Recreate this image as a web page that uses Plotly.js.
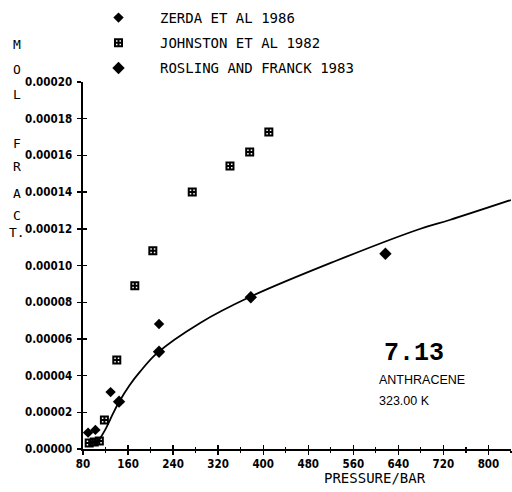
<!DOCTYPE html>
<html>
<head>
<meta charset="utf-8">
<script src="https://cdn.plot.ly/plotly-3.0.1.min.js"></script>
<style>
  html, body { margin: 0; padding: 0; background: #fff; }
  #chart { width: 512px; height: 492px; }
</style>
</head>
<body>
<div id="chart"></div>
<script>
// Anthracene solubility in supercritical fluid at 323.00 K
const pressureZerda = [89, 102, 129, 215];
const fractionZerda = [8.9e-6, 1.04e-5, 3.1e-5, 6.81e-5];

const pressureJohnston = [91, 100, 109, 118, 140, 172, 204, 274, 341, 376, 410];
const fractionJohnston = [3.3e-6, 3.8e-6, 4.4e-6, 1.58e-5, 4.85e-5, 8.9e-5, 1.08e-4, 1.40e-4, 1.542e-4, 1.619e-4, 1.727e-4];

const pressureRosling = [144, 215, 378, 617];
const fractionRosling = [2.58e-5, 5.30e-5, 8.27e-5, 1.064e-4];

// correlation curve
const curvePressure = [104, 121, 133, 144, 163, 181, 211, 288, 376, 524, 678, 731, 840];
const curveFraction = [2.6e-6, 1.14e-5, 1.91e-5, 2.56e-5, 3.49e-5, 4.20e-5, 5.21e-5, 6.87e-5, 8.28e-5, 1.019e-4, 1.199e-4, 1.248e-4, 1.357e-4];

const seriesNames = ['ZERDA ET AL 1986', 'JOHNSTON ET AL 1982', 'ROSLING AND FRANCK 1983'];
const yLetters = ['M', 'O', 'L', 'F', 'R', 'A', 'C', 'T.'];
const xTicks = [80, 160, 240, 320, 400, 480, 560, 640, 720, 800];
const yTicks = [0, 0.00002, 0.00004, 0.00006, 0.00008, 0.0001, 0.00012, 0.00014, 0.00016, 0.00018, 0.0002];

// plot box in pixels
const L = 83, T = 82, W = 428, H = 367;
const px = v => (v - L) / W;
const py = v => (T + H - v) / H;

const letterRows = [44, 69, 95, 143, 166, 193, 215, 232];

const tickFont = { family: 'DejaVu Sans Condensed', size: 11.5, color: '#000', weight: 'bold' };
const monoFont = { family: 'DejaVu Sans Mono', size: 14, color: '#000' };

const traces = [
  {
    x: pressureZerda, y: fractionZerda, type: 'scatter', mode: 'markers',
    name: seriesNames[0], legendgroup: 'a',
    marker: { symbol: 'diamond', size: 8, color: '#000' }
  },
  {
    x: pressureJohnston, y: fractionJohnston, type: 'scatter', mode: 'markers',
    name: seriesNames[1], legendgroup: 'b',
    marker: { symbol: 'square-cross-open', size: 7, color: '#000', line: { width: 2, color: '#000' } }
  },
  {
    x: pressureRosling, y: fractionRosling, type: 'scatter', mode: 'markers',
    name: seriesNames[2], legendgroup: 'c',
    marker: { symbol: 'diamond', size: 9.5, color: '#000' }
  },
  {
    x: curvePressure, y: curveFraction, type: 'scatter', mode: 'lines',
    line: { shape: 'spline', smoothing: 1, color: '#000', width: 1.8 },
    showlegend: false, hoverinfo: 'skip'
  }
];

const annotations = yLetters.map((s, i) => ({
  text: s, xref: 'paper', yref: 'paper', x: px(17), y: py(letterRows[i]),
  xanchor: 'center', yanchor: 'middle', showarrow: false,
  font: { family: 'DejaVu Sans Mono', size: 13, color: '#000' }
}));

annotations.push(
  { text: 'PRESSURE/BAR', xref: 'paper', yref: 'paper', x: px(375), y: py(478),
    xanchor: 'center', yanchor: 'middle', showarrow: false, font: monoFont },
  { text: '7.13', xref: 'paper', yref: 'paper', x: px(382), y: py(353),
    xanchor: 'left', yanchor: 'middle', showarrow: false,
    font: { family: 'Liberation Mono', size: 25, color: '#000', weight: 'bold' } },
  { text: 'ANTHRACENE', xref: 'paper', yref: 'paper', x: px(377), y: py(380),
    xanchor: 'left', yanchor: 'middle', showarrow: false,
    font: { family: 'Liberation Sans', size: 12.5, color: '#000' } },
  { text: '323.00 K', xref: 'paper', yref: 'paper', x: px(377), y: py(401),
    xanchor: 'left', yanchor: 'middle', showarrow: false,
    font: { family: 'Liberation Sans', size: 12.5, color: '#000' } }
);

const layout = {
  width: 512, height: 492,
  margin: { l: L, r: 512 - L - W, t: T, b: 492 - T - H, autoexpand: false },
  paper_bgcolor: '#fff', plot_bgcolor: '#fff',
  showlegend: true,
  legend: {
    x: px(77), xanchor: 'left', y: py(2), yanchor: 'top',
    font: monoFont, bgcolor: 'rgba(0,0,0,0)', itemwidth: 73,
    traceorder: 'grouped', tracegroupgap: 4
  },
  xaxis: {
    range: [80, 840], showgrid: false, zeroline: false,
    showline: true, linecolor: '#000', linewidth: 1.6,
    tickmode: 'array', tickvals: xTicks, ticktext: xTicks.map(String),
    ticks: 'outside', ticklen: 4, tickwidth: 1.4, tickcolor: '#000',
    minor: { dtick: 40, tick0: 0, ticks: 'outside', ticklen: 2, tickwidth: 1.2, tickcolor: '#000' },
    tickfont: tickFont
  },
  xaxis2: {
    overlaying: 'x', anchor: 'y', side: 'bottom', range: [80, 840],
    showgrid: false, zeroline: false, showline: false, showticklabels: false,
    tickmode: 'array', tickvals: xTicks,
    ticks: 'inside', ticklen: 4, tickwidth: 1.4, tickcolor: '#000',
    minor: { dtick: 40, tick0: 0, ticks: 'inside', ticklen: 2, tickwidth: 1.2, tickcolor: '#000' }
  },
  yaxis: {
    range: [0, 0.0002], showgrid: false, zeroline: false,
    showline: true, linecolor: '#000', linewidth: 1.6,
    tickmode: 'array', tickvals: yTicks, ticktext: yTicks.map(v => v.toFixed(5)),
    ticks: 'outside', ticklen: 4, tickwidth: 1.4, tickcolor: '#000',
    ticklabelstandoff: 3,
    tickfont: tickFont
  },
  yaxis2: {
    overlaying: 'y', anchor: 'x', side: 'left', range: [0, 0.0002],
    showgrid: false, zeroline: false, showline: false, showticklabels: false,
    tickmode: 'array', tickvals: yTicks,
    ticks: 'inside', ticklen: 4, tickwidth: 1.4, tickcolor: '#000'
  },
  annotations: annotations
};

// invisible carrier traces so the inner tick axes are drawn
traces.push(
  { x: [80], y: [0], xaxis: 'x2', yaxis: 'y', mode: 'markers', marker: { opacity: 0 }, showlegend: false, hoverinfo: 'skip' },
  { x: [80], y: [0], xaxis: 'x', yaxis: 'y2', mode: 'markers', marker: { opacity: 0 }, showlegend: false, hoverinfo: 'skip' }
);

Plotly.newPlot('chart', traces, layout, { staticPlot: true, displayModeBar: false });
</script>
</body>
</html>
